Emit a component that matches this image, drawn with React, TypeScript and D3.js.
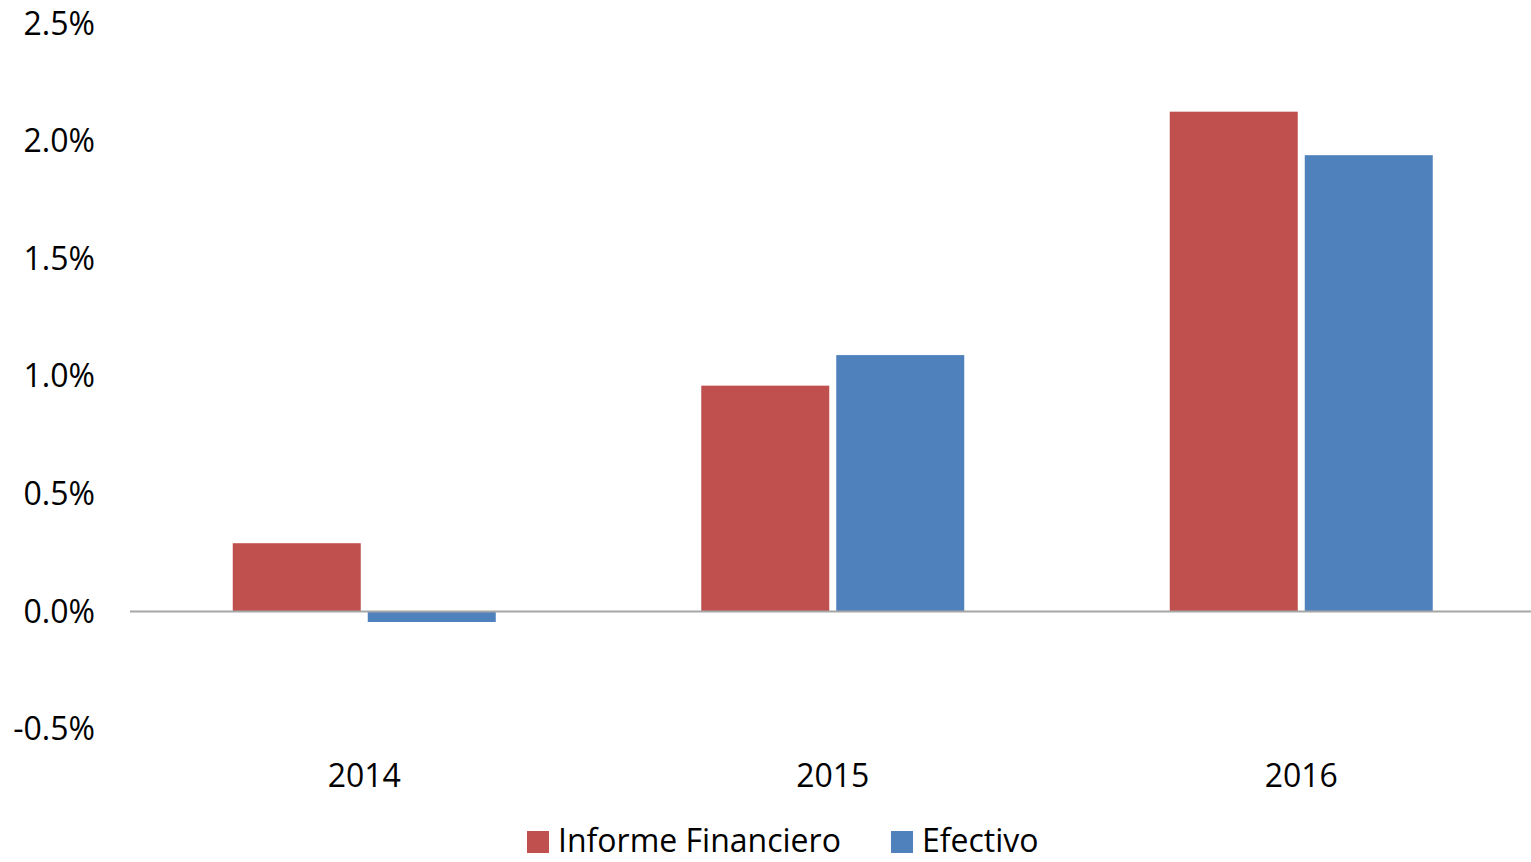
import React from "react";
import * as d3 from "d3";

const categories = ["2014", "2015", "2016"];
const seriesNames = ["Informe Financiero", "Efectivo"];
const informeFinanciero = [0.29, 0.96, 2.125];
const efectivo = [-0.045, 1.09, 1.94];
const yTicks = [-0.5, 0, 0.5, 1.0, 1.5, 2.0, 2.5];
const colors = ["#C0504D", "#4F81BD"];

const W = 1531;
const H = 862;
const FONT = "'Open Sans', Lato, sans-serif";

export default function App() {
  const x = d3.scaleBand<string>().domain(categories).range([130, 1535.5]).paddingInner(0).paddingOuter(0);
  const y = d3.scaleLinear().domain([-0.5, 2.5]).range([729, 23.5]);
  const groupW = 263;
  const barW = 128;
  const gap = 7;
  const series = [informeFinanciero, efectivo];
  const fmt = (t: number) => d3.format(".1f")(t).replace("\u2212", "-") + "%";

  return (
    <svg width={W} height={H} style={{ position: "absolute", left: 0, top: 0, background: "#fff" }} fontFamily={FONT}>
      {categories.map((c, i) => {
        const cx = (x(c) as number) + x.bandwidth() / 2;
        const start = cx - groupW / 2;
        return series.map((s, j) => {
          const v = s[i];
          const y0 = y(0);
          const yv = y(v);
          return (
            <rect
              key={c + j}
              x={start + j * (barW + gap)}
              y={Math.min(y0, yv)}
              width={barW}
              height={Math.abs(yv - y0)}
              fill={colors[j]}
            />
          );
        });
      })}
      <line x1={130} x2={1531} y1={y(0)} y2={y(0)} stroke="#A6A6A6" strokeWidth={2} />
      {yTicks.map((t) => (
        <text key={t} x={95} y={y(t)} dy="0.35em" textAnchor="end" fontSize={32} fill="#000">
          {fmt(t)}
        </text>
      ))}
      {categories.map((c) => (
        <text key={c} x={(x(c) as number) + x.bandwidth() / 2} y={776} dy="0.35em" textAnchor="middle" fontSize={32} fill="#000">
          {c}
        </text>
      ))}
      {seriesNames.map((n, j) => {
        const lx = [527, 891][j];
        return (
          <g key={n}>
            <rect x={lx} y={831} width={22} height={22} fill={colors[j]} />
            <text x={lx + 31} y={852} fontSize={32} fill="#000">
              {n}
            </text>
          </g>
        );
      })}
    </svg>
  );
}
